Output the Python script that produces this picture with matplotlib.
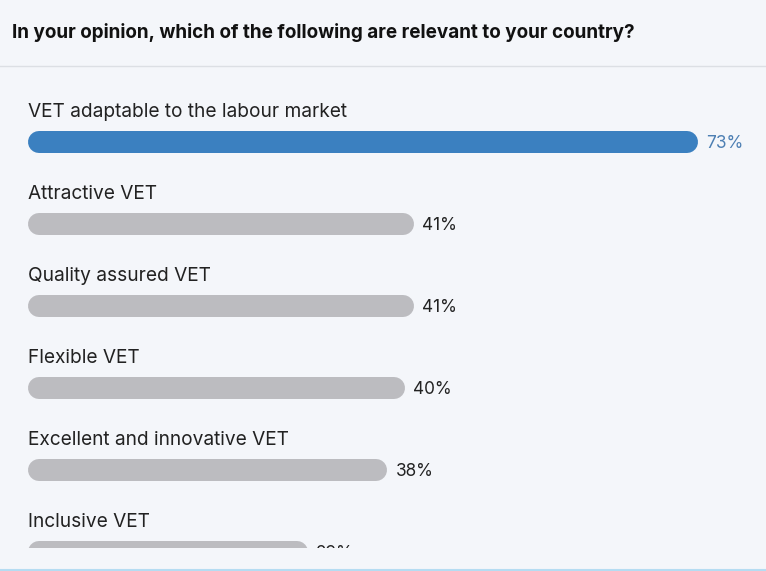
import matplotlib
matplotlib.use("Agg")
import matplotlib.pyplot as plt
from matplotlib.lines import Line2D

title = "In your opinion, which of the following are relevant to your country?"
categories = [
    "VET adaptable to the labour market",
    "Attractive VET",
    "Quality assured VET",
    "Flexible VET",
    "Excellent and innovative VET",
    "Inclusive VET",
]
values = [73, 41, 41, 40, 38, 29]

BG = "#f4f6fa"
BLUE = "#3b80c0"
GREY = "#bcbcc0"
TEXT = "#222222"
BLUE_TEXT = "#4d7fb3"
FONT = "Inter"

W, H = 766, 571
fig = plt.figure(figsize=(W / 100, H / 100), dpi=100)
fig.patch.set_facecolor(BG)

def fx(px):
    return px / W

def fy(py):
    return 1 - py / H

# title and divider
fig.text(fx(12), fy(32), title, fontsize=13.6, fontweight="bold", family=FONT,
         color="#111111", va="center", ha="left")
fig.add_artist(Line2D([0, 1], [fy(65.5), fy(65.5)], color="#dcdfe4", lw=1.0))
fig.add_artist(Line2D([0, 1], [fy(570), fy(570)], color="#b5dcf2", lw=1.5))

# bar axes (clipped at bottom of viewport)
top_px, bot_px = 66, 548
ax = fig.add_axes([0, 1 - bot_px / H, 1, (bot_px - top_px) / H])
ax.set_facecolor(BG)
ax.patch.set_alpha(0)
for s in ax.spines.values():
    s.set_visible(False)
ax.set_xticks([])
ax.set_yticks([])

x0_px = 39.0
scale = 8.88  # px per percent
first_px, step_px = 142.0, 82.0
ax.set_xlim(-x0_px / scale, (W - x0_px) / scale)
ax.set_ylim((bot_px - first_px) / step_px, (top_px - first_px) / step_px)

bar_px = 22
px2pt = 0.72
lw_pt = bar_px * px2pt

for i, (cat, v) in enumerate(zip(categories, values)):
    color = BLUE if i == 0 else GREY
    ax.plot([0, v], [i, i], color=color, lw=lw_pt, solid_capstyle="round")
    ax.annotate(cat, xy=(0, i), xytext=(-11 * px2pt, 30 * px2pt),
                textcoords="offset points", fontsize=13.75, family=FONT,
                color=TEXT, va="center", ha="left", annotation_clip=False, clip_on=True)
    ax.annotate(f"{v}%", xy=(v, i), xytext=(19 * px2pt, -1 * px2pt),
                textcoords="offset points", fontsize=12.4, family=FONT,
                color=BLUE_TEXT if i == 0 else TEXT, va="center", ha="left",
                annotation_clip=False, clip_on=True)

fig.savefig("out.png", dpi=100, facecolor=BG)
